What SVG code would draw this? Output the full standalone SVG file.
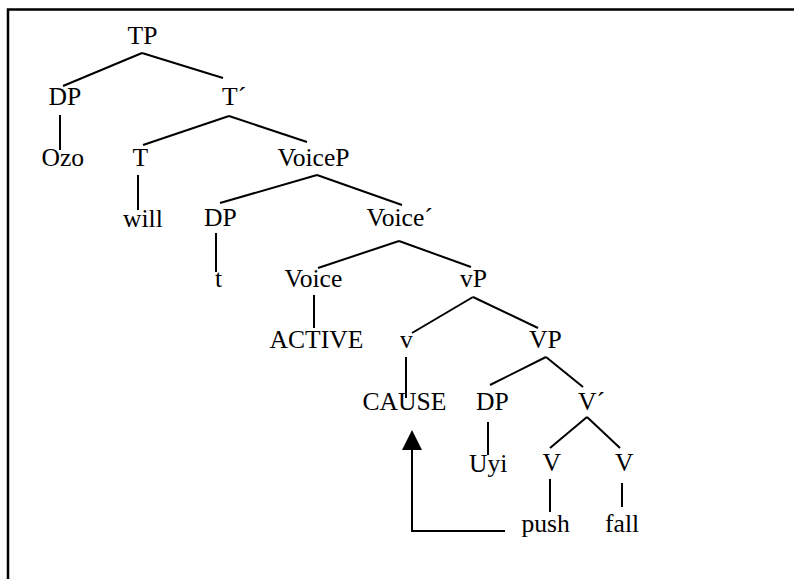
<svg xmlns="http://www.w3.org/2000/svg" width="794" height="579" viewBox="0 0 794 579">
  <style>
    text { font-family: "Liberation Serif", "Times New Roman", serif; font-size: 25.6px; fill: #000; }
    .edge { stroke: #000; stroke-width: 2; fill: none; stroke-linecap: butt; }
    .frame { stroke: #000; stroke-width: 2.5; fill: #fff; }
  </style>
  <defs>
    <marker id="arrowhead" markerUnits="userSpaceOnUse" markerWidth="20" markerHeight="20" refX="10" refY="20" orient="0" viewBox="0 0 20 20">
      <path d="M0,20 L10,0 L20,20 Z" fill="#000"/>
    </marker>
  </defs>

  <rect width="794" height="579" fill="#fff"/>
  <!-- outer frame; right and bottom sides run past the canvas -->
  <rect class="frame" x="8" y="9.5" width="820" height="620"/>

  <g id="connectors">
    <!-- TP -->
    <line class="edge" x1="142" y1="53" x2="63" y2="86"/>
    <line class="edge" x1="142" y1="53" x2="223" y2="78"/>
    <line class="edge" x1="60" y1="115" x2="60" y2="150"/>
    <!-- T' -->
    <line class="edge" x1="229" y1="116" x2="143" y2="145"/>
    <line class="edge" x1="229" y1="116" x2="307" y2="142"/>
    <line class="edge" x1="138" y1="175" x2="138" y2="210"/>
    <!-- VoiceP -->
    <line class="edge" x1="317" y1="175" x2="220" y2="203"/>
    <line class="edge" x1="317" y1="175" x2="402" y2="205"/>
    <line class="edge" x1="216" y1="233" x2="216" y2="272"/>
    <!-- Voice' -->
    <line class="edge" x1="399" y1="241" x2="318" y2="268"/>
    <line class="edge" x1="399" y1="241" x2="471" y2="267"/>
    <line class="edge" x1="314" y1="295" x2="314" y2="328"/>
    <!-- vP -->
    <line class="edge" x1="473" y1="297" x2="412" y2="333"/>
    <line class="edge" x1="473" y1="297" x2="538" y2="328"/>
    <line class="edge" x1="406" y1="357" x2="406" y2="398"/>
    <!-- VP -->
    <line class="edge" x1="546" y1="357" x2="490" y2="385"/>
    <line class="edge" x1="546" y1="357" x2="583" y2="387"/>
    <line class="edge" x1="488" y1="422" x2="488" y2="455"/>
    <!-- V' -->
    <line class="edge" x1="587" y1="417" x2="550" y2="448"/>
    <line class="edge" x1="587" y1="417" x2="620" y2="448"/>
    <line class="edge" x1="550" y1="479" x2="550" y2="512"/>
    <line class="edge" x1="622" y1="483" x2="622" y2="507"/>
    <!-- movement arrow: push raises to CAUSE -->
    <polyline class="edge" stroke-width="2.5" points="505,531 412,531 412,450" marker-end="url(#arrowhead)"/>
  </g>

  <g id="TP"><text x="127.5" y="44">TP</text></g>
  <g id="DP-subject"><text x="48.5" y="105">DP</text></g>
  <g id="T-bar"><text x="222" y="105">T´</text></g>
  <g id="Ozo"><text x="41.5" y="166">Ozo</text></g>
  <g id="T"><text x="132.5" y="166">T</text></g>
  <g id="VoiceP"><text x="277.5" y="166">VoiceP</text></g>
  <g id="will"><text x="123" y="226.5">will</text></g>
  <g id="DP-trace"><text x="204" y="226">DP</text></g>
  <g id="Voice-bar"><text x="366.5" y="226">Voice´</text></g>
  <g id="t"><text x="215" y="287">t</text></g>
  <g id="Voice"><text x="284.5" y="287">Voice</text></g>
  <g id="vP"><text x="460" y="287">vP</text></g>
  <g id="ACTIVE"><text x="269.5" y="347.5">ACTIVE</text></g>
  <g id="v"><text x="400" y="348">v</text></g>
  <g id="VP"><text x="529" y="348">VP</text></g>
  <g id="CAUSE"><text x="362.5" y="410">CAUSE</text></g>
  <g id="DP-object"><text x="476" y="410">DP</text></g>
  <g id="V-bar"><text x="578" y="410">V´</text></g>
  <g id="Uyi"><text x="469" y="471.5">Uyi</text></g>
  <g id="V-push"><text x="542.5" y="471">V</text></g>
  <g id="V-fall"><text x="615" y="471">V</text></g>
  <g id="push"><text x="521.5" y="532">push</text></g>
  <g id="fall"><text x="605" y="532">fall</text></g>
</svg>
